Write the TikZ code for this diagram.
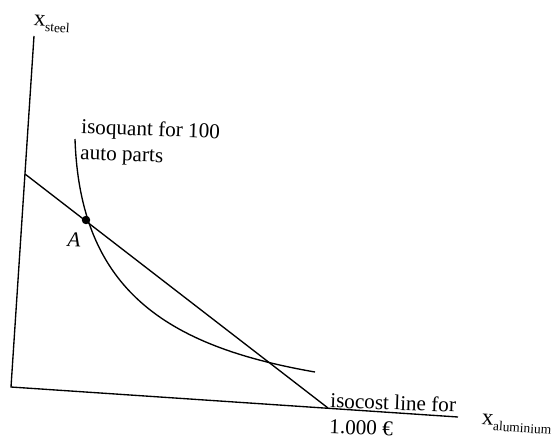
\documentclass[tikz,border=0pt]{standalone}
\usepackage{fontspec}
\setmainfont{Liberation Serif}
\newcommand{\axsub}[1]{\raisebox{-3pt}{\fontsize{7}{8}\selectfont #1}}
\begin{document}
\begin{tikzpicture}[x=0.52pt, y=-0.52pt, line width=0.7pt,
    lbl/.style={inner sep=0pt, rotate=-2, font=\fontsize{11}{13.5}\selectfont},
    axlbl/.style={inner sep=0pt, rotate=-3.8, font=\fontsize{12}{14}\selectfont}]
    % Keep the page at the size of the scan
    \useasboundingbox (0,0) rectangle (555,438);

    % Corner points of the axes and the isocost line
    \coordinate (O) at (11,387);
    \coordinate (ytop) at (34,36);
    \coordinate (xend) at (458,417);
    \coordinate (costtop) at (25,174);
    \coordinate (costbot) at (328,408);

    % Draw the axes
    \draw (ytop) -- (O) -- (xend);
    \node[axlbl, anchor=base west] (xsteel) at (33,25) {x\axsub{steel}};
    \node[axlbl, anchor=base west] (xalu) at (481,424) {x\axsub{aluminium}};

    % Isocost line
    \draw (costtop) -- (costbot);
    \node[lbl, anchor=north west, align=left] (costlbl) at (330,392) {isocost line for\\1.000 €};

    % Isoquant
    \coordinate (qtop) at (75,139);
    \coordinate (qend) at (315,372);
    \draw (qtop) .. controls (80,289) and (165,346) .. (qend);
    \node[lbl, anchor=north west, align=left] (quantlbl) at (81,118) {isoquant for 100\\auto parts};

    % Point A, where the two touch first
    \node[circle, fill, inner sep=0pt, minimum size=4.4pt] (A) at (86,220) {};
    \node[lbl] (lblA) at (74,240) {\textit{A}};

\end{tikzpicture}
\end{document}
